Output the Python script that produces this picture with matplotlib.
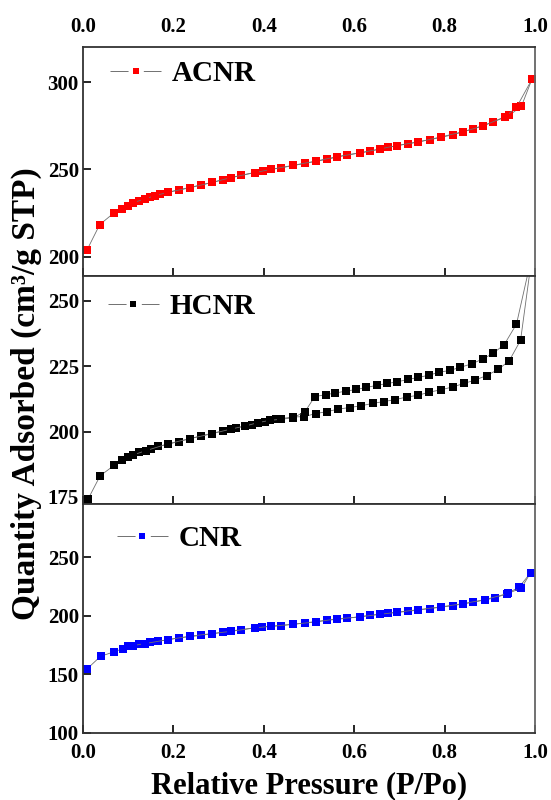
import numpy as np
import matplotlib.pyplot as plt
from matplotlib.lines import Line2D

plt.rcParams['font.family'] = ['Liberation Serif', 'DejaVu Serif']
plt.rcParams['font.weight'] = 'bold'
plt.rcParams['lines.scale_dashes'] = False

# ACNR isotherm (adsorption / desorption)
acnr_ads_x = [0.009, 0.037, 0.068, 0.087, 0.100, 0.124, 0.148, 0.170, 0.213, 0.262, 0.310, 0.350,
              0.398, 0.439, 0.491, 0.539, 0.585, 0.635, 0.675, 0.720, 0.768, 0.818, 0.863, 0.908,
              0.943, 0.970, 0.993]
acnr_ads_y = [203.8, 218.3, 224.9, 227.4, 229.2, 232.1, 234.2, 235.8, 238.3, 241.1, 244.0, 246.6,
              249.2, 250.9, 253.4, 255.7, 258.3, 260.4, 262.6, 264.7, 267.0, 269.8, 273.2, 277.2,
              280.9, 286.2, 301.5]
acnr_des_x = [0.993, 0.959, 0.934, 0.886, 0.840, 0.791, 0.742, 0.694, 0.657, 0.613, 0.561, 0.515,
              0.465, 0.417, 0.380, 0.328, 0.286, 0.236, 0.188, 0.159, 0.137, 0.110]
acnr_des_y = [301.5, 285.5, 280.2, 274.9, 271.5, 268.5, 265.7, 263.6, 261.7, 259.4, 257.2, 254.7,
              252.3, 250.0, 248.1, 245.3, 242.5, 239.4, 236.8, 234.9, 233.0, 230.8]

# HCNR isotherm
hcnr_ads_x = [0.011, 0.038, 0.069, 0.087, 0.100, 0.125, 0.151, 0.166, 0.213, 0.262, 0.310, 0.339,
              0.373, 0.402, 0.428, 0.465, 0.489, 0.515, 0.539, 0.565, 0.590, 0.616, 0.642, 0.666,
              0.690, 0.716, 0.742, 0.766, 0.793, 0.818, 0.843, 0.867, 0.893, 0.919, 0.943, 0.968,
              0.994]
hcnr_ads_y = [174.1, 183.1, 187.1, 189.1, 190.1, 192.1, 193.4, 194.3, 196.2, 198.4, 200.3, 201.4,
              202.7, 203.8, 204.7, 205.6, 205.7, 206.9, 207.6, 208.6, 209.2, 209.9, 210.8, 211.5,
              212.2, 213.2, 213.9, 215.1, 216.0, 217.1, 218.4, 219.7, 221.4, 223.8, 227.1, 234.9,
              268.0]
hcnr_des_x = [0.994, 0.959, 0.932, 0.908, 0.886, 0.860, 0.835, 0.812, 0.788, 0.766, 0.742, 0.720,
              0.695, 0.673, 0.651, 0.627, 0.605, 0.582, 0.557, 0.537, 0.513, 0.491, 0.465, 0.439,
              0.413, 0.387, 0.358, 0.328, 0.286, 0.236, 0.188, 0.139, 0.110]
hcnr_des_y = [268.0, 241.1, 233.3, 230.0, 227.9, 225.9, 224.6, 223.4, 222.7, 221.6, 220.7, 220.0,
              219.0, 218.4, 217.7, 216.9, 216.1, 215.5, 214.7, 214.1, 213.4, 207.6, 205.3, 204.7,
              204.3, 203.4, 202.1, 201.0, 199.2, 197.3, 195.3, 192.7, 191.0]

# CNR isotherm
cnr_ads_x = [0.009, 0.039, 0.068, 0.089, 0.100, 0.124, 0.148, 0.166, 0.213, 0.262, 0.310, 0.350,
             0.395, 0.439, 0.491, 0.539, 0.585, 0.635, 0.675, 0.720, 0.768, 0.818, 0.863, 0.911,
             0.937, 0.965, 0.990]
cnr_ads_y = [154.5, 165.3, 169.0, 171.9, 173.9, 175.9, 177.3, 178.1, 181.0, 183.2, 185.8, 188.1,
             190.3, 191.5, 193.8, 196.0, 197.7, 200.3, 202.0, 203.7, 206.0, 208.5, 211.4, 215.1,
             218.5, 224.4, 236.4]
cnr_des_x = [0.990, 0.970, 0.941, 0.889, 0.841, 0.791, 0.742, 0.694, 0.657, 0.613, 0.561, 0.515,
             0.465, 0.417, 0.380, 0.328, 0.286, 0.236, 0.188, 0.137, 0.110]
cnr_des_y = [236.4, 223.6, 219.0, 213.6, 210.2, 207.4, 205.1, 202.8, 201.1, 198.9, 197.2, 194.6,
             192.6, 190.9, 189.5, 186.6, 184.7, 182.4, 179.5, 176.1, 174.4]

panels = [
    ("ACNR", "#ff0000", acnr_ads_x, acnr_ads_y, acnr_des_x, acnr_des_y, (189, 320), [200, 250, 300]),
    ("HCNR", "#000000", hcnr_ads_x, hcnr_ads_y, hcnr_des_x, hcnr_des_y, (172.2, 259.6), [175, 200, 225, 250]),
    ("CNR", "#0000ff", cnr_ads_x, cnr_ads_y, cnr_des_x, cnr_des_y, (100, 295), [100, 150, 200, 250]),
]
leg_pos = [(0.06, 0.886), (0.055, 0.864), (0.075, 0.851)]

fig, axes = plt.subplots(3, 1, sharex=True, figsize=(5.51, 8.0), dpi=100)
fig.subplots_adjust(left=0.1506, right=0.971, top=0.941, bottom=0.084, hspace=0)

for i, (ax, (name, col, ax_x, ax_y, de_x, de_y, ylim, yt)) in enumerate(zip(axes, panels)):
    for xs, ys in [(ax_x, ax_y), (de_x, de_y)]:
        ax.plot(xs, ys, '-', color='#707070', lw=0.6, marker='s', ms=5.8,
                mfc=col, mec=col, mew=0)
    ax.set_xlim(0, 1.0)
    ax.set_ylim(*ylim)
    ax.set_yticks(yt)
    ax.tick_params(direction='in', length=6, width=1.2, labelsize=15, pad=3,
                   top=False, right=False)
    ax.tick_params(axis='x', pad=7)
    for s in ax.spines.values():
        s.set_linewidth(1.3)
        s.set_color('#333333')
    ax.spines['right'].set_color('#666666')
    h = Line2D([], [], color='#707070', lw=0.7, dashes=(13, 11, 13, 200),
               marker='s', ms=4, mfc=col, mec=col, mew=0)
    ax.legend([h], [name], loc='center left', bbox_to_anchor=leg_pos[i], frameon=False,
              handlelength=1.75, handletextpad=0.35, borderaxespad=0, borderpad=0,
              prop={'weight': 'bold', 'size': 21})
    for lb in ax.get_xticklabels() + ax.get_yticklabels():
        lb.set_fontweight('bold')

axes[0].tick_params(axis='x', labeltop=True, top=False, pad=7)
axes[0].set_xticks([0.0, 0.2, 0.4, 0.6, 0.8, 1.0])
axes[2].xaxis.set_major_formatter(plt.FuncFormatter(lambda v, p: f"{v:.1f}"))

axes[2].set_xlabel("Relative Pressure (P/Po)", fontsize=22, fontweight='bold', labelpad=6)
fig.text(0.047, 0.508, "Quantity Adsorbed (cm³/g STP)", rotation=90, fontsize=24,
         fontweight='bold', ha='center', va='center')

fig.savefig("out.png", dpi=100)
